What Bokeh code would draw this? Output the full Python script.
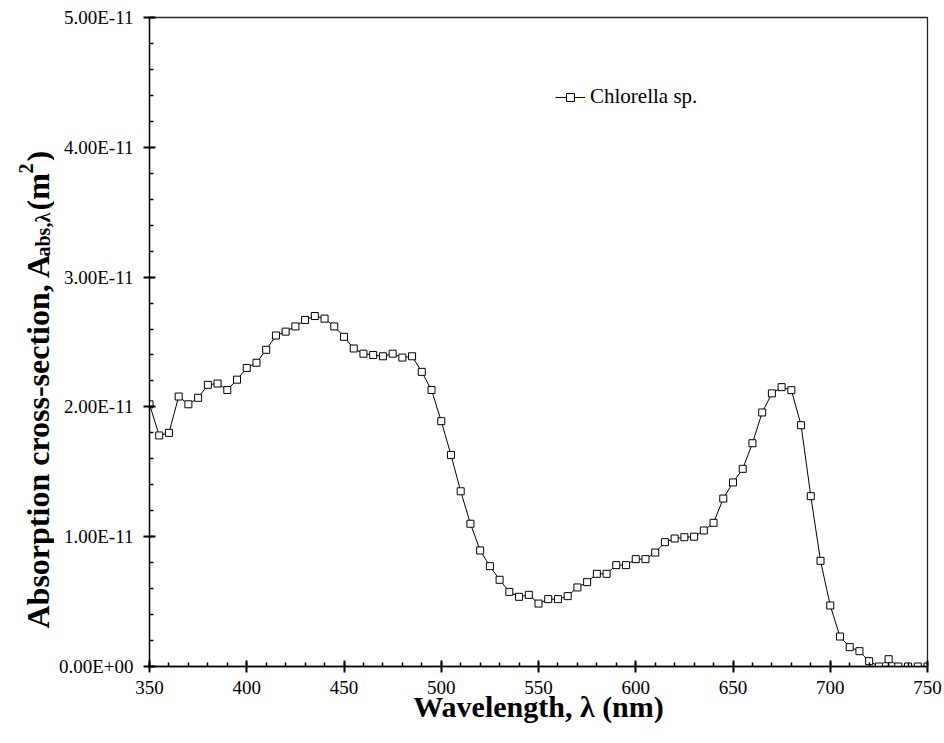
import math
from bokeh.plotting import figure
from bokeh.layouts import row
from bokeh.models import (Range1d, FixedTicker, CustomJSTickFormatter,
                          Legend, LegendItem, ColumnDataSource)
from bokeh.core.properties import value
from bokeh.embed import file_html
from bokeh.resources import INLINE

# ---------------- data ----------------
WAVELENGTH = [350, 355, 360, 365, 370, 375, 380, 385, 390, 395,
              400, 405, 410, 415, 420, 425, 430, 435, 440, 445,
              450, 455, 460, 465, 470, 475, 480, 485, 490, 495,
              500, 505, 510, 515, 520, 525, 530, 535, 540, 545,
              550, 555, 560, 565, 570, 575, 580, 585, 590, 595,
              600, 605, 610, 615, 620, 625, 630, 635, 640, 645,
              650, 655, 660, 665, 670, 675, 680, 685, 690, 695,
              700, 705, 710, 715, 720, 725, 730, 735, 740, 745, 750]

ABSORPTION = [2.02e-11, 1.78e-11, 1.80e-11, 2.08e-11, 2.02e-11, 2.07e-11, 2.17e-11, 2.18e-11, 2.13e-11, 2.21e-11,
              2.30e-11, 2.34e-11, 2.44e-11, 2.55e-11, 2.58e-11, 2.62e-11, 2.67e-11, 2.70e-11, 2.68e-11, 2.62e-11,
              2.54e-11, 2.45e-11, 2.41e-11, 2.40e-11, 2.39e-11, 2.41e-11, 2.38e-11, 2.39e-11, 2.27e-11, 2.13e-11,
              1.89e-11, 1.63e-11, 1.35e-11, 1.10e-11, 0.894e-11, 0.773e-11, 0.668e-11, 0.575e-11, 0.537e-11, 0.552e-11,
              0.485e-11, 0.519e-11, 0.519e-11, 0.542e-11, 0.609e-11, 0.650e-11, 0.714e-11, 0.714e-11, 0.781e-11, 0.781e-11,
              0.827e-11, 0.827e-11, 0.878e-11, 0.958e-11, 0.986e-11, 0.996e-11, 1.00e-11, 1.048e-11, 1.107e-11, 1.294e-11,
              1.418e-11, 1.523e-11, 1.72e-11, 1.957e-11, 2.104e-11, 2.152e-11, 2.129e-11, 1.859e-11, 1.312e-11, 0.814e-11,
              0.470e-11, 0.231e-11, 0.149e-11, 0.118e-11, 0.041e-11, 0.0, 0.056e-11, 0.0, 0.0, 0.0, 0.0]

SERIES_NAME = "Chlorella sp."

X_TICKS = [350, 400, 450, 500, 550, 600, 650, 700, 750]
X_MINOR_TICKS = [350, 360, 370, 380, 390, 400, 410, 420, 430, 440, 450, 460, 470, 480, 490,
                 500, 510, 520, 530, 540, 550, 560, 570, 580, 590, 600, 610, 620, 630, 640,
                 650, 660, 670, 680, 690, 700, 710, 720, 730, 740, 750]
Y_TICKS = [0.0, 1e-11, 2e-11, 3e-11, 4e-11, 5e-11]
Y_TICK_LABELS = ["0.00E+00", "1.00E-11", "2.00E-11", "3.00E-11", "4.00E-11", "5.00E-11"]
Y_MINOR_TICKS = [0.0, 0.2e-11, 0.4e-11, 0.6e-11, 0.8e-11, 1.0e-11, 1.2e-11, 1.4e-11, 1.6e-11, 1.8e-11,
                 2.0e-11, 2.2e-11, 2.4e-11, 2.6e-11, 2.8e-11, 3.0e-11, 3.2e-11, 3.4e-11, 3.6e-11, 3.8e-11,
                 4.0e-11, 4.2e-11, 4.4e-11, 4.6e-11, 4.8e-11, 5.0e-11]

X_TITLE = "Wavelength, λ (nm)"
Y_TITLE_PARTS = ["Absorption cross-section, A", "abs,λ", "(m", "2", ")"]

FONT = "Liberation Serif"

# ---------------- layout constants ----------------
W, H = 944, 743
BORDER_TOP, BORDER_BOTTOM, BORDER_RIGHT, FRAME_LEFT = 17, 77, 17, 149
TITLE_W = 54
FRAME_H = H - BORDER_TOP - BORDER_BOTTOM

# ---------------- y-axis title strip (left) ----------------
yt = figure(width=TITLE_W, height=H, output_backend="svg", toolbar_location=None,
            x_range=Range1d(0, TITLE_W), y_range=Range1d(0, FRAME_H),
            x_axis_location=None, y_axis_location=None,
            min_border_left=0, min_border_right=0,
            min_border_top=BORDER_TOP, min_border_bottom=BORDER_BOTTOM,
            outline_line_color=None, background_fill_color="white", border_fill_color="white")
yt.grid.visible = False

# pieces of the rotated title: baseline x, start y (up from frame bottom), font size
title_src = ColumnDataSource(dict(
    text=Y_TITLE_PARTS,
    bx=[37, 42, 37, 25, 37],
    by=[38, 410, 456, 493, 505],
    fs=["32px", "20px", "32px", "20px", "32px"],
))
yt.text(x="bx", y="by", text="text", source=title_src, angle=math.pi / 2,
        text_font=value(FONT), text_font_size="fs", text_font_style=value("bold"),
        text_align=value("left"), text_baseline=value("alphabetic"), text_color="black")

# ---------------- main figure ----------------
p = figure(width=W - TITLE_W, height=H, output_backend="svg", toolbar_location=None,
           x_range=Range1d(350, 750), y_range=Range1d(0, 5e-11),
           min_border_left=FRAME_LEFT - TITLE_W, min_border_right=BORDER_RIGHT,
           min_border_top=BORDER_TOP, min_border_bottom=BORDER_BOTTOM,
           background_fill_color="white", border_fill_color="white")

p.xgrid.visible = False
p.ygrid.visible = False
p.outline_line_color = "#222222"
p.outline_line_width = 1.3

p.xaxis.ticker = FixedTicker(ticks=X_TICKS, minor_ticks=X_MINOR_TICKS)
p.yaxis.ticker = FixedTicker(ticks=Y_TICKS, minor_ticks=Y_MINOR_TICKS)
p.yaxis.formatter = CustomJSTickFormatter(
    args=dict(tick_values=Y_TICKS, tick_labels=Y_TICK_LABELS),
    code="""
    for (let i = 0; i < tick_values.length; i++) {
        if (Math.abs(tick_values[i] - tick) < 1e-15) { return tick_labels[i]; }
    }
    return "";
    """)

for ax in (p.xaxis, p.yaxis):
    ax.axis_line_color = "black"
    ax.axis_line_width = 1.3
    ax.major_tick_line_color = "black"
    ax.major_tick_line_width = 2
    ax.minor_tick_line_color = "black"
    ax.minor_tick_line_width = 1.5
    ax.major_tick_in = 6
    ax.major_tick_out = 6
    ax.minor_tick_in = 4
    ax.minor_tick_out = 0
    ax.major_label_text_font = FONT
    ax.major_label_text_font_size = "19px"
    ax.major_label_text_color = "black"

p.xaxis.major_label_standoff = 8
p.yaxis.major_label_standoff = 10

p.xaxis.axis_label = X_TITLE
p.xaxis.axis_label_text_font = FONT
p.xaxis.axis_label_text_font_size = "30px"
p.xaxis.axis_label_text_font_style = "bold"
p.xaxis.axis_label_text_color = "black"
p.xaxis.axis_label_standoff = -7

# ---------------- data series ----------------
r_line = p.line(WAVELENGTH, ABSORPTION, line_color="black", line_width=1)
r_pts = p.scatter(WAVELENGTH, ABSORPTION, marker="square", size=7,
                  line_color="black", line_width=1, fill_color="white")

legend = Legend(items=[LegendItem(label=SERIES_NAME, renderers=[r_line, r_pts])],
                location=(406, 557), glyph_width=30, glyph_height=20, label_height=20,
                label_standoff=5, padding=0, margin=0, spacing=0,
                border_line_alpha=0, background_fill_alpha=0,
                label_text_font=FONT, label_text_font_size="21px", label_text_color="black")
p.add_layout(legend)

layout = row(yt, p)
open("out.html", "w").write(file_html(layout, INLINE))
